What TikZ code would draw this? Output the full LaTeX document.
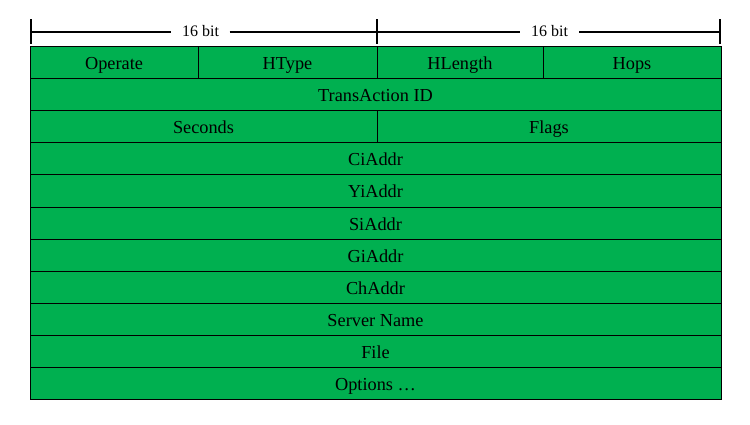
\documentclass[tikz,border=0pt]{standalone}
\usepackage{fontspec}
\setmainfont{Liberation Serif}
\definecolor{cellgreen}{RGB}{0,176,80}
\begin{document}
\begin{tikzpicture}[x=1pt,y=-1pt,
  cell/.style={draw=black,line width=0.9pt,fill=cellgreen,inner sep=0pt,outer sep=0pt,
    font=\fontsize{18.3}{22}\selectfont,text height=14pt,text depth=0pt},
  dimlabel/.style={inner sep=0pt,font=\fontsize{16}{19}\selectfont,text height=10.6pt,text depth=0pt},
  dimline/.style={line width=2.2pt},
  tick/.style={line width=2.6pt}]
\useasboundingbox (0,0) rectangle (750,425);
\newcommand{\cellbox}[6]{% name, x1, y1, x2, y2, text
  \node[cell,minimum width={(#4-#2)*1pt},minimum height={(#5-#3)*1pt}] (#1) at ({(#2+#4)/2},{(#3+#5)/2}) {#6};}
\cellbox{op}{30}{46.5}{198}{78.6}{Operate}
\cellbox{ht}{198}{46.5}{377}{78.6}{HType}
\cellbox{hl}{377}{46.5}{543}{78.6}{HLength}
\cellbox{hops}{543}{46.5}{721}{78.6}{Hops}
\cellbox{tid}{30}{78.6}{721}{110.7}{TransAction ID}
\cellbox{sec}{30}{110.7}{377}{142.8}{Seconds}
\cellbox{flags}{377}{110.7}{721}{142.8}{Flags}
\cellbox{ci}{30}{142.8}{721}{174.9}{CiAddr}
\cellbox{yi}{30}{174.9}{721}{207.0}{YiAddr}
\cellbox{si}{30}{207.0}{721}{239.1}{SiAddr}
\cellbox{gi}{30}{239.1}{721}{271.2}{GiAddr}
\cellbox{ch}{30}{271.2}{721}{303.3}{ChAddr}
\cellbox{sn}{30}{303.3}{721}{335.4}{Server Name}
\cellbox{file}{30}{335.4}{721}{367.5}{File}
\cellbox{opt}{30}{367.5}{721}{399.6}{Options …}
% dimension line
\coordinate (tA) at (31,32);
\coordinate (tB) at (377,32);
\coordinate (tC) at (720,32);
\node[dimlabel,minimum width=58pt] (l1) at (200.5,31.5) {16 bit};
\node[dimlabel,minimum width=59pt] (l2) at (549.5,31.5) {16 bit};
\draw[dimline] (tA) -- (tA -| l1.west);
\draw[dimline] (tB -| l1.east) -- (tB);
\draw[dimline] (tB) -- (tB -| l2.west);
\draw[dimline] (tC -| l2.east) -- (tC);
\draw[tick] ([yshift=-12pt]tA) -- ([yshift=13pt]tA);
\draw[tick] ([yshift=-12pt]tB) -- ([yshift=13pt]tB);
\draw[tick] ([yshift=-12pt]tC) -- ([yshift=13pt]tC);
\end{tikzpicture}
\end{document}
